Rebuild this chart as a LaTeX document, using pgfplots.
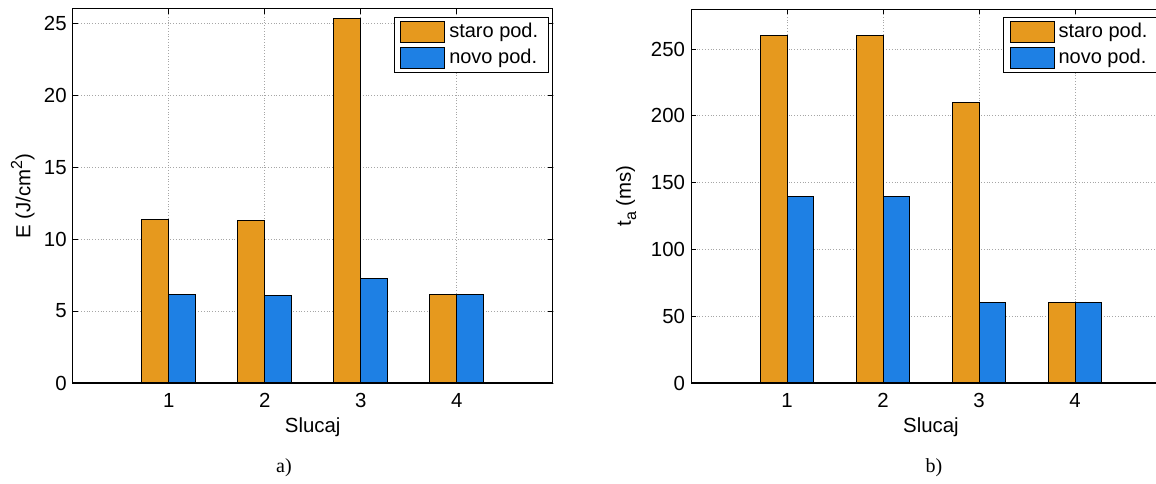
\documentclass[border=0pt]{standalone}
\usepackage{pgfplots}
\pgfplotsset{compat=1.18}
\usepackage{fontspec}
\setmainfont{Liberation Sans}
\newfontfamily\seriffont{Liberation Serif}
\definecolor{staro}{RGB}{230,153,30}
\definecolor{novo}{RGB}{30,128,228}
\pgfplotstableread{
x staro novo
1 11.39 6.15
2 11.30 6.08
3 25.37 7.24
4 6.15 6.15
}\tableE
\pgfplotstableread{
x staro novo
1 260 140
2 260 140
3 210 60
4 60 60
}\tableT
\pgfplotsset{
  mybar/.style={
    scale only axis, width=240bp, height=187bp,
    xmin=0, xmax=5, ymin=0, xtick={1,2,3,4},
    ybar=0pt, bar width=13.4bp,
    grid=major, major grid style={densely dotted, gray!70, line width=0.4bp},
    tick align=inside, major tick length=2.5bp,
    axis line style={line width=0.5bp},
    every tick/.style={black, line width=0.4bp},
    font=\fontsize{10.2bp}{12bp}\selectfont,
    /pgf/number format/assume math mode=true,
    xticklabel style={yshift=-1.5bp},
    yticklabel style={xshift=0.5bp},
    xlabel={Slucaj},
    xlabel style={at={(axis description cs:0.5,0)}, anchor=center, yshift=-22bp},
    legend style={at={(1,1)}, anchor=north east, yshift=-4bp,
      draw=black, line width=0.5bp, font=\fontsize{10bp}{12bp}\selectfont,
      inner xsep=3bp, inner ysep=1.5bp, row sep=1bp, cells={anchor=west},
      nodes={inner ysep=1.5bp, inner xsep=2bp}},
    legend image code/.code={\draw[##1, line width=0.5bp] (0bp,-5.25bp) rectangle (22bp,5.25bp);},
    every axis plot/.append style={draw=black, line width=0.5bp},
  }
}
\begin{document}
\begin{tikzpicture}
\useasboundingbox (0,0) rectangle (578bp,242bp);
\clip (0,0) rectangle (578bp,242bp);
\begin{axis}[mybar, at={(36.35bp,50.5bp)}, anchor=origin, ymax=26, ytick={0,5,...,25},
  ylabel={E (J/cm\raisebox{0.75ex}{\fontsize{8bp}{9bp}\selectfont 2})},
  ylabel style={at={(axis description cs:-0.104,0.5)}, anchor=center, rotate=0},
  legend style={xshift=-2bp}]
\addplot[fill=staro] table[x=x,y=staro]{\tableE};
\addplot[fill=novo] table[x=x,y=novo]{\tableE};
\legend{staro pod., novo pod.}
\draw[line width=1bp] (axis cs:0,0) -- (axis cs:5,0);
\end{axis}
\begin{axis}[mybar, at={(345.5bp,50.5bp)}, anchor=origin, ymax=280, ytick={0,50,...,250},
  ylabel={t\raisebox{-0.5ex}{\fontsize{8bp}{9bp}\selectfont a} (ms)},
  ylabel style={at={(axis description cs:-0.135,0.5)}, anchor=center, rotate=0},
  legend style={xshift=-6.5bp}]
\addplot[fill=staro] table[x=x,y=staro]{\tableT};
\addplot[fill=novo] table[x=x,y=novo]{\tableT};
\legend{staro pod., novo pod.}
\draw[line width=1bp] (axis cs:0,0) -- (axis cs:5,0);
\end{axis}
\node[font=\seriffont\fontsize{10bp}{12bp}\selectfont] at (142bp,8bp) {a)};
\node[font=\seriffont\fontsize{10bp}{12bp}\selectfont] at (467bp,8bp) {b)};
\end{tikzpicture}
\end{document}
